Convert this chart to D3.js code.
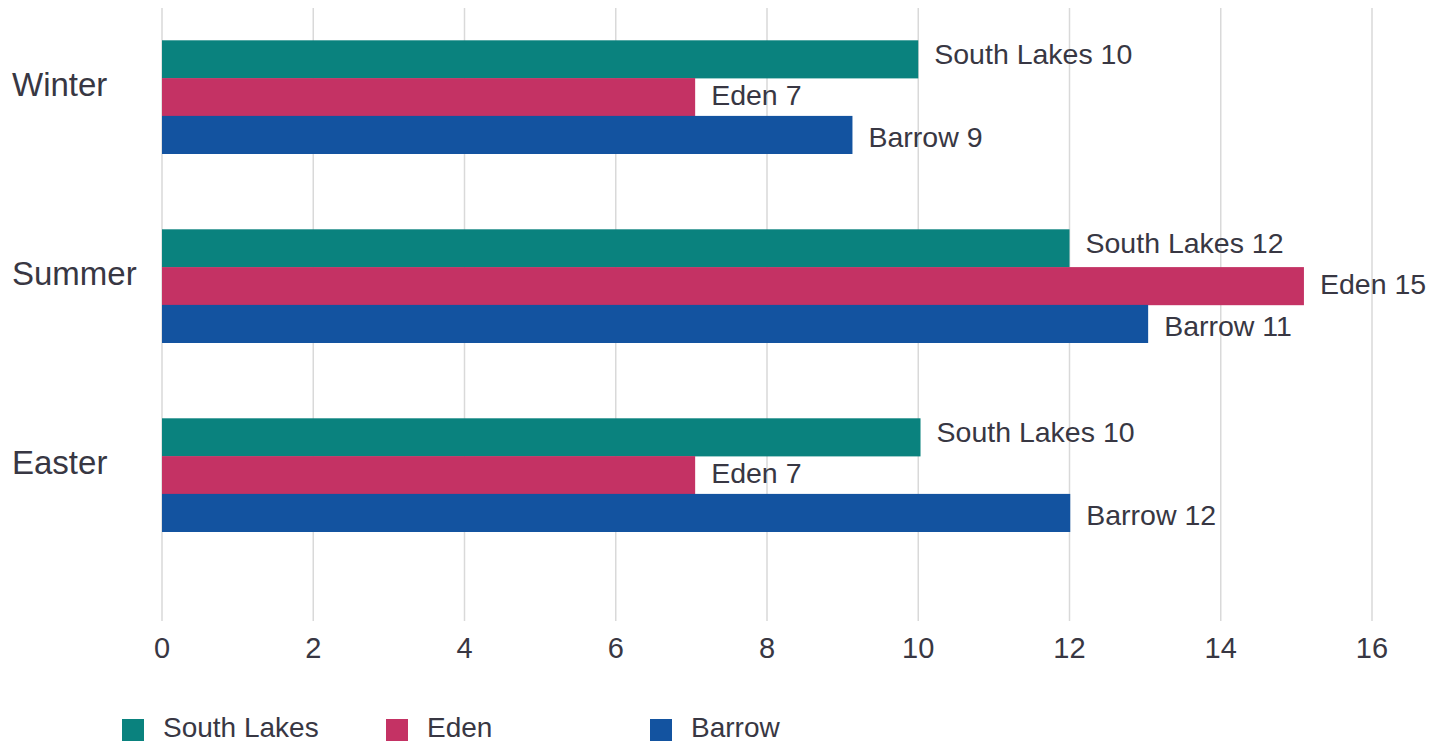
<!DOCTYPE html>
<html>
<head>
<meta charset="utf-8">
<script src="https://cdn.jsdelivr.net/npm/d3@7"></script>
<style>
  html, body { margin: 0; padding: 0; background: #fff; }
  svg { display: block; }
  text { font-family: "Liberation Sans", Arial, sans-serif; fill: #383743; }
</style>
</head>
<body>
<svg id="chart" width="1442" height="744"></svg>
<script>
// ---- data ----
const categories = ["Winter", "Summer", "Easter"];
const seriesNames = ["South Lakes", "Eden", "Barrow"];
const southLakesValues = [10.0, 12.0, 10.03];
const edenValues = [7.05, 15.1, 7.05];
const barrowValues = [9.13, 13.04, 12.01];
const southLakesLabels = ["South Lakes 10", "South Lakes 12", "South Lakes 10"];
const edenLabels = ["Eden 7", "Eden 15", "Eden 7"];
const barrowLabels = ["Barrow 9", "Barrow 11", "Barrow 12"];
const xTicks = [0, 2, 4, 6, 8, 10, 12, 14, 16];

const colors = ["#0a827e", "#c43264", "#1353a0"];

const seriesValues = [southLakesValues, edenValues, barrowValues];
const seriesLabels = [southLakesLabels, edenLabels, barrowLabels];

const svg = d3.select("#chart");

const x = d3.scaleLinear().domain([0, 16]).range([162, 1372]);
const y0 = d3.scaleBand().domain(categories).range([2.5, 569.5])
  .paddingInner(0.4).paddingOuter(0.2);
const y1 = d3.scaleBand().domain(seriesNames).range([0, y0.bandwidth()]);
// label positions spread slightly wider than the bars
const yl = d3.scalePoint().domain(seriesNames)
  .range([y0.bandwidth() / 2 - 43, y0.bandwidth() / 2 + 40]);

// gridlines
svg.append("g").selectAll("line").data(xTicks).join("line")
  .attr("x1", d => x(d)).attr("x2", d => x(d))
  .attr("y1", 8).attr("y2", 621)
  .attr("stroke", "#d9d9d9").attr("stroke-width", 1.5);

// x tick labels
svg.append("g").selectAll("text").data(xTicks).join("text")
  .attr("x", d => x(d)).attr("y", 658)
  .attr("text-anchor", "middle")
  .style("font-size", "29px")
  .text(d => d);

// category labels
svg.append("g").selectAll("text").data(categories).join("text")
  .attr("x", 12)
  .attr("y", d => y0(d) + y0.bandwidth() / 2 - 1)
  .style("font-size", "33px")
  .text(d => d);

// bars
const rows = [];
categories.forEach((c, ci) => {
  seriesNames.forEach((s, si) => {
    rows.push({ cat: c, series: s, si, value: seriesValues[si][ci], label: seriesLabels[si][ci] });
  });
});

const g = svg.append("g");
g.selectAll("rect").data(rows).join("rect")
  .attr("x", x(0))
  .attr("y", d => y0(d.cat) + y1(d.series))
  .attr("width", d => x(d.value) - x(0))
  .attr("height", y1.bandwidth() + 0.3)
  .attr("fill", d => colors[d.si]);

g.selectAll("text.lbl").data(rows).join("text")
  .attr("class", "lbl")
  .attr("x", d => x(d.value) + 16)
  .attr("y", d => y0(d.cat) + yl(d.series))
  .attr("dy", "0.35em")
  .style("font-size", "28.5px")
  .text(d => d.label);

// legend
const lx = d3.scalePoint().domain(seriesNames).range([122, 650]);
const leg = svg.append("g").selectAll("g").data(seriesNames).join("g")
  .attr("transform", d => `translate(${lx(d)},0)`);
leg.append("rect")
  .attr("x", 0).attr("y", 719).attr("width", 22).attr("height", 22)
  .attr("fill", (d, i) => colors[i]);
leg.append("text")
  .attr("x", 41).attr("y", 737)
  .style("font-size", "28px")
  .text(d => d);
</script>
</body>
</html>
